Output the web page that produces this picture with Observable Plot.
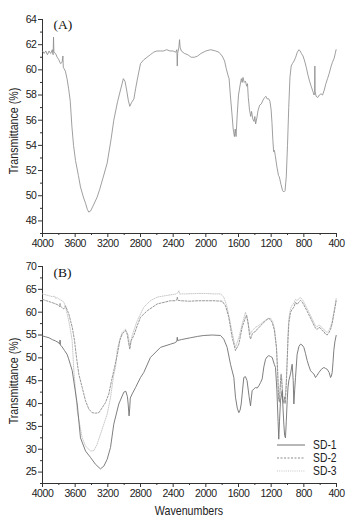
<!DOCTYPE html>
<html>
<head>
<meta charset="utf-8">
<script src="https://cdn.jsdelivr.net/npm/d3@7"></script>
<script src="https://cdn.jsdelivr.net/npm/@observablehq/plot@0.6"></script>
<style>
  html, body { margin: 0; padding: 0; background: #fff; }
  #wrap { position: relative; width: 349px; height: 520px; overflow: hidden; }
  .panel { position: absolute; left: 0; }
  .panel svg g[aria-label$="tick label"] text { letter-spacing: -0.45px; }
  .lbl { position: absolute; font-family: "Liberation Sans", Arial, sans-serif; color: #222; white-space: nowrap; line-height: 1; }
  .ylab { font-size: 13px; transform: translate(-50%, -50%) rotate(-90deg) scaleX(0.82); }
  .xlab { font-size: 13px; transform: translate(-50%, -50%) scaleX(0.82); }
  .legend { position: absolute; left: 277px; top: 438.5px; font-family: "Liberation Sans", Arial, sans-serif; font-size: 11.5px; color: #222; line-height: 12px; }
  .legend .row { display: flex; align-items: center; height: 13px; }
  .legend svg { margin-right: 8px; flex: none; }
  .legend span { display: inline-block; line-height: 12px; transform: scale(0.9, 1.1); transform-origin: left center; }
</style>
</head>
<body>
<div id="wrap">
  <div id="pa" class="panel" style="top:0px"></div>
  <div id="pb" class="panel" style="top:250px"></div>
  <div class="lbl ylab" style="left:13px; top:131px">Transmittance (%)</div>
  <div class="lbl ylab" style="left:13px; top:381px">Transmittance (%)</div>
  <div class="lbl xlab" style="left:189px; top:510px">Wavenumbers</div>
  <div class="legend" id="legend"></div>
</div>
<script>
// ---------- Data ----------
const xTicks = [4000, 3600, 3200, 2800, 2400, 2000, 1600, 1200, 800, 400];
const xMinorTicks = [3800, 3400, 3000, 2600, 2200, 1800, 1400, 1000, 600];
const xDomain = [4000, 400];

const yDomainA = [47, 64];
const yTicksA = [48, 50, 52, 54, 56, 58, 60, 62, 64];
const yMinorTicksA = [47, 49, 51, 53, 55, 57, 59, 61, 63];

const yDomainB = [22.5, 70];
const yTicksB = [25, 30, 35, 40, 45, 50, 55, 60, 65, 70];
const yMinorTicksB = [22.5, 27.5, 32.5, 37.5, 42.5, 47.5, 52.5, 57.5, 62.5, 67.5];

const panelLabels = ["(A)", "(B)"];
const seriesNames = ["SD-1", "SD-2", "SD-3"];

// Panel A spectrum
const aWave = [4000,3980,3960,3940,3920,3900,3880,3870,3865,3860,3840,3820,3800,3780,3760,3750,3745,3720,3700,3680,3660,3640,3620,3596,3560,3535,3500,3473,3450,3433,3410,3380,3330,3300,3260,3208,3160,3127,3080,3045,3010,2990,2970,2950,2931,2910,2880,2860,2840,2800,2760,2720,2680,2640,2600,2560,2520,2480,2440,2400,2370,2355,2350,2345,2330,2322,2315,2300,2260,2220,2180,2140,2100,2060,2000,1940,1880,1840,1800,1770,1750,1730,1715,1700,1680,1665,1650,1640,1630,1615,1600,1580,1565,1555,1545,1530,1515,1500,1490,1480,1465,1450,1440,1425,1410,1400,1390,1375,1360,1340,1320,1300,1280,1265,1250,1230,1215,1200,1190,1180,1170,1160,1150,1130,1110,1100,1080,1060,1045,1030,1015,1000,985,970,955,940,920,900,880,860,845,830,810,790,770,750,730,710,690,675,668,665,662,650,630,610,590,570,550,530,510,490,470,450,430,415,405];
const aT = [61.5,61.3,61.5,61.2,61.5,61.3,61.6,61.2,62.6,61.4,61.3,61.0,60.8,60.5,60.6,61.1,60.2,59.9,59.3,58.5,57.5,55.5,54.0,52.8,51.6,50.7,49.9,49.4,48.9,48.7,48.8,49.2,49.9,50.5,51.4,52.6,54.5,56.0,57.5,58.4,59.3,59.1,58.4,57.6,57.1,57.4,57.7,58.5,59.2,60.5,60.8,61.0,61.2,61.4,61.5,61.5,61.5,61.6,61.5,61.5,61.4,61.6,60.3,61.3,61.8,62.4,61.8,61.5,61.3,61.2,61.0,61.0,61.1,61.3,61.5,61.6,61.5,61.4,61.1,60.7,60.1,59.6,59.3,58.0,56.5,55.3,54.7,55.3,54.7,56.5,58.0,58.8,59.3,59.0,59.4,59.0,59.1,58.7,58.9,57.8,56.8,56.3,56.7,56.1,55.9,56.3,55.7,56.2,56.8,57.2,57.3,57.6,57.8,57.9,57.7,57.7,57.5,56.8,55.8,54.5,53.5,53.6,53.2,52.3,51.6,51.5,50.9,50.4,50.3,50.4,51.5,54.0,57.0,59.4,60.3,60.5,60.7,61.0,61.4,61.6,61.5,61.3,61.1,60.7,60.2,59.6,59.1,58.7,58.3,58.0,58.2,60.3,58.3,57.9,57.8,58.0,58.1,58.0,58.4,58.9,59.3,59.7,60.2,60.6,60.9,61.3,61.6];

// Panel B: SD-1
const sd1Wave = [4000,3960,3920,3880,3840,3800,3790,3785,3780,3760,3730,3700,3680,3660,3636,3575,3535,3473,3412,3351,3290,3249,3208,3167,3127,3066,3004,2980,2960,2951,2940,2932,2925,2902,2861,2800,2760,2678,2555,2433,2380,2355,2350,2345,2300,2188,2100,2025,1920,1820,1780,1739,1698,1657,1637,1615,1596,1580,1567,1550,1535,1515,1495,1470,1453,1433,1412,1392,1370,1351,1330,1310,1290,1269,1250,1229,1208,1188,1160,1147,1130,1115,1107,1098,1086,1065,1055,1045,1035,1025,1015,1004,994,984,963,943,930,922,912,902,882,860,841,820,800,780,759,738,718,698,678,657,637,616,585,555,535,514,490,473,463,453,443,433,420,404];
const sd1T = [54.8,54.6,54.4,54.0,53.7,53.3,53.0,53.9,52.8,52.4,51.6,50.8,49.8,48.6,47.2,39.9,32.5,29.6,28.2,26.7,25.7,26.3,27.8,30.4,35.5,39.9,42.5,42.7,41.5,39.9,37.3,39.0,41.2,42.1,43.5,45.7,46.8,50.1,52.3,53.0,53.3,53.6,54.5,53.8,54.0,54.4,54.7,54.9,55.0,54.9,54.1,52.3,48.6,45.7,41.4,39.0,38.0,38.6,39.9,43.0,45.7,45.9,45.0,41.5,39.5,42.8,43.2,43.5,43.4,43.9,44.6,45.4,48.0,49.7,50.2,50.5,50.3,50.1,48.5,47.9,43.0,36.0,32.2,36.0,40.6,42.8,39.0,35.5,33.0,32.5,36.0,40.6,43.5,45.0,46.5,48.6,45.0,39.9,43.0,45.7,50.8,52.5,53.0,52.8,52.3,51.0,49.4,48.2,47.2,46.8,46.5,45.7,46.2,46.8,47.5,47.9,47.7,47.5,46.8,45.7,46.0,46.8,49.0,51.6,53.5,54.9];

// Panel B: SD-2
const sd2Wave = [4000,3950,3900,3850,3800,3790,3785,3780,3740,3718,3678,3636,3608,3584,3555,3514,3473,3433,3392,3351,3310,3269,3229,3188,3155,3127,3086,3053,3024,2984,2963,2943,2931,2914,2882,2841,2800,2718,2596,2433,2380,2355,2350,2340,2300,2200,2100,2000,1900,1800,1759,1719,1678,1637,1596,1555,1514,1500,1485,1465,1453,1430,1412,1390,1371,1350,1331,1300,1269,1229,1188,1160,1135,1120,1108,1098,1088,1078,1068,1055,1045,1035,1028,1015,1004,994,984,963,943,922,902,882,860,841,820,800,780,759,738,718,698,678,657,637,616,596,576,555,535,514,494,473,453,433,418,404];
const sd2T = [62.8,62.5,62.2,61.9,61.5,61.2,61.9,61.3,60.7,61.4,59.6,56.7,53.8,50.1,46.4,43.5,40.6,38.8,38.0,37.9,38.0,39.1,40.2,42.1,45.0,47.2,50.5,53.8,55.2,56.0,55.2,53.0,51.9,53.8,54.9,57.0,58.9,60.3,61.8,62.5,62.5,62.7,63.3,62.6,62.5,62.4,62.5,62.5,62.5,62.4,61.4,58.9,54.5,51.6,53.0,56.7,58.9,59.3,58.0,55.0,54.1,55.3,55.6,55.8,56.3,56.6,57.0,57.6,58.1,58.7,57.8,56.0,52.3,47.0,41.0,40.3,44.0,46.5,44.0,40.5,40.2,41.5,40.0,44.0,49.0,54.0,57.5,60.0,60.6,61.1,62.2,61.7,62.2,62.6,62.2,61.6,60.9,60.2,59.4,58.7,58.0,57.2,56.5,56.2,56.7,56.5,56.0,55.8,55.2,55.0,55.5,56.2,57.5,59.5,61.0,62.5];

// Panel B: SD-3
const sd3Wave = [4000,3960,3920,3880,3850,3840,3820,3800,3770,3739,3718,3698,3677,3657,3637,3616,3575,3514,3473,3412,3371,3331,3290,3249,3208,3167,3127,3106,3086,3053,3024,2984,2951,2931,2915,2902,2841,2759,2680,2596,2433,2380,2345,2330,2320,2250,2100,2000,1900,1820,1780,1739,1698,1657,1637,1596,1555,1514,1495,1473,1453,1430,1392,1360,1331,1290,1249,1208,1180,1160,1135,1120,1110,1100,1090,1080,1068,1055,1045,1035,1028,1015,1004,994,984,963,943,922,902,882,860,841,820,800,780,759,738,718,698,678,657,637,616,596,576,555,535,514,494,473,453,433,418,404];
const sd3T = [64.0,63.8,63.6,63.4,63.5,63.0,63.2,62.9,62.6,62.2,61.2,59.6,58.0,56.0,53.8,47.2,38.4,32.5,30.7,29.6,29.7,31.1,33.3,35.5,37.7,41.3,46.4,47.9,51.6,54.1,55.6,56.3,55.0,52.6,53.8,54.9,58.1,61.1,62.5,63.3,63.8,63.9,64.2,64.7,64.0,64.0,64.1,64.1,64.0,64.0,63.3,61.1,57.4,53.8,52.3,54.4,57.4,60.0,58.5,56.7,55.2,56.0,56.7,57.0,57.4,58.0,58.5,58.7,57.8,56.5,52.0,46.0,41.0,40.5,43.0,46.0,45.5,41.0,40.0,41.0,41.5,45.0,50.0,55.0,58.5,60.8,61.5,62.0,62.8,62.5,63.0,63.2,62.8,62.2,61.5,60.8,60.0,59.3,58.5,57.8,57.0,56.8,57.2,57.0,56.5,56.3,55.8,55.6,56.0,56.8,58.0,60.0,61.5,63.0];

// ---------- Styles ----------
const FONT = '"Liberation Sans", Arial, sans-serif';
const AXIS = "#333";
const seriesStyle = {
  "SD-1": {stroke: "#707070", width: 0.9, dash: null},
  "SD-2": {stroke: "#8c8c8c", width: 0.9, dash: "2,1.5"},
  "SD-3": {stroke: "#c4c4c4", width: 0.9, dash: "1,1.2"}
};

const toRows = (ws, ts) => ws.map((w, i) => ({w, t: ts[i]}));
const fmt = d => String(d);

function axes(yDomain, yTicks, yMinor) {
  return [
    Plot.ruleY([yDomain[0]], {stroke: AXIS, strokeWidth: 1}),
    Plot.ruleX([xDomain[0]], {stroke: AXIS, strokeWidth: 1}),
    Plot.axisX({ticks: xTicks, tickFormat: fmt, tickSize: 4, tickPadding: 2, label: null, fontSize: 10.5, stroke: AXIS, fill: "#222"}),
    Plot.axisX({ticks: xMinorTicks, tickSize: 2, text: null, label: null, stroke: AXIS}),
    Plot.axisY({ticks: yTicks, tickFormat: fmt, tickSize: 4, tickPadding: 2, label: null, fontSize: 10.5, stroke: AXIS, fill: "#222"}),
    Plot.axisY({ticks: yMinor, tickSize: 2, text: null, label: null, stroke: AXIS})
  ];
}

const plotA = Plot.plot({
  width: 349, height: 250,
  marginLeft: 42, marginRight: 13, marginTop: 19, marginBottom: 17,
  style: {fontFamily: FONT, background: "#fff", color: "#222"},
  x: {domain: xDomain, axis: null},
  y: {domain: yDomainA, axis: null},
  marks: [
    ...axes(yDomainA, yTicksA, yMinorTicksA),
    Plot.line(toRows(aWave, aT), {x: "w", y: "t", stroke: "#8e8e8e", strokeWidth: 0.85}),
    Plot.text([panelLabels[0]], {frameAnchor: "top-left", dx: 11, dy: 0, text: d => d, fontFamily: "Liberation Serif, serif", fontSize: 13.5, fill: "#111", textAnchor: "start", lineAnchor: "top"})
  ]
});
document.getElementById("pa").appendChild(plotA);

const seriesB = [
  {name: seriesNames[0], rows: toRows(sd1Wave, sd1T)},
  {name: seriesNames[1], rows: toRows(sd2Wave, sd2T)},
  {name: seriesNames[2], rows: toRows(sd3Wave, sd3T)}
];

const plotB = Plot.plot({
  width: 349, height: 270,
  marginLeft: 42, marginRight: 13, marginTop: 16, marginBottom: 37,
  style: {fontFamily: FONT, background: "#fff", color: "#222"},
  x: {domain: xDomain, axis: null},
  y: {domain: yDomainB, axis: null},
  marks: [
    ...axes(yDomainB, yTicksB, yMinorTicksB),
    ...seriesB.slice().reverse().map(s => Plot.line(s.rows, {
      x: "w", y: "t",
      stroke: seriesStyle[s.name].stroke,
      strokeWidth: seriesStyle[s.name].width,
      strokeDasharray: seriesStyle[s.name].dash
    })),
    Plot.text([panelLabels[1]], {frameAnchor: "top-left", dx: 11, dy: 1, text: d => d, fontFamily: "Liberation Serif, serif", fontSize: 13.5, fill: "#111", textAnchor: "start", lineAnchor: "top"})
  ]
});
document.getElementById("pb").appendChild(plotB);

// Legend
const legend = document.getElementById("legend");
seriesNames.forEach(name => {
  const st = seriesStyle[name];
  const row = document.createElement("div");
  row.className = "row";
  row.innerHTML = `<svg width="28" height="6"><line x1="0" y1="3" x2="28" y2="3" stroke="${st.stroke}" stroke-width="1" ${st.dash ? `stroke-dasharray="${st.dash}"` : ""}/></svg><span>${name}</span>`;
  legend.appendChild(row);
});
</script>
</body>
</html>
